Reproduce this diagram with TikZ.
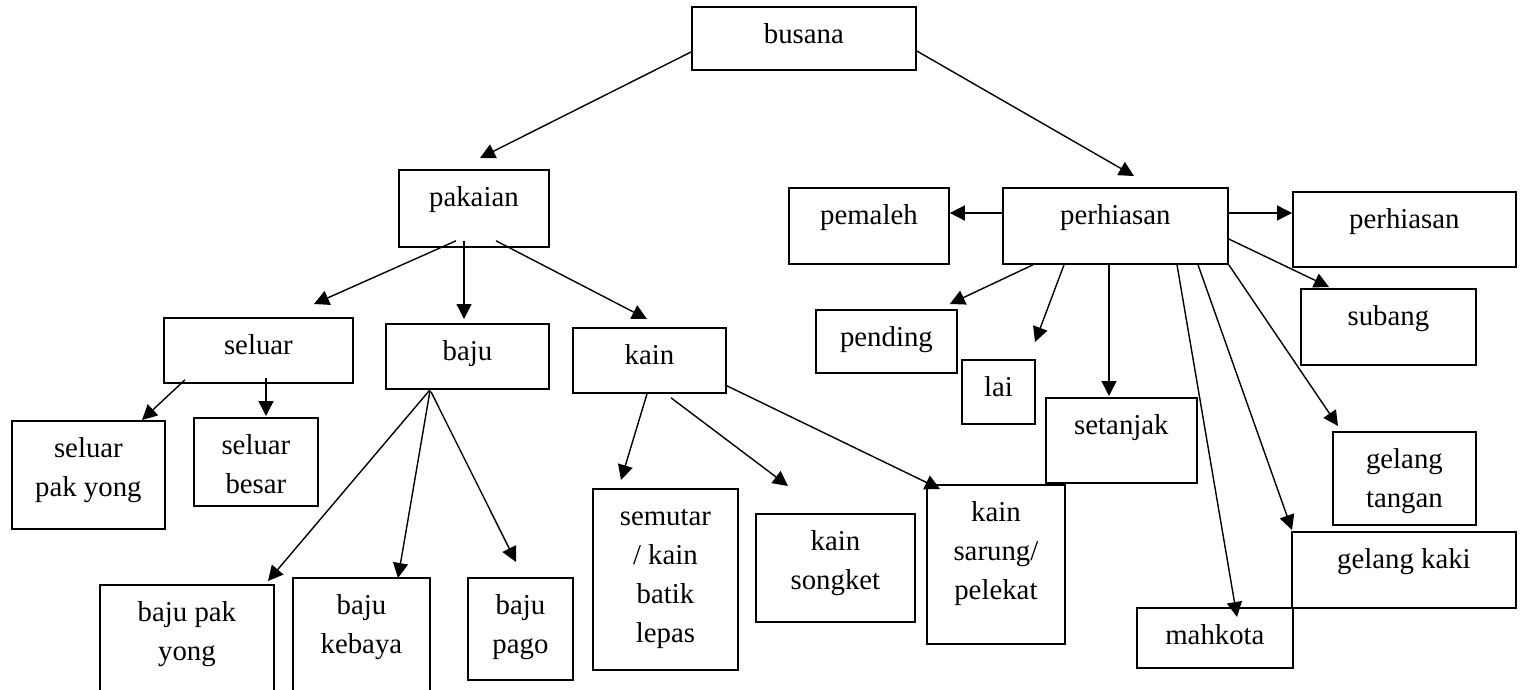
\documentclass[tikz,border=0pt]{standalone}
\usepackage{fontspec}
\setmainfont{Liberation Serif}
\usetikzlibrary{arrows.meta,calc}
\newcommand{\isi}[3]{\parbox[t][#2pt][t]{#1pt}{\centering\rule{0pt}{37pt}#3}}

\begin{document}
\begin{tikzpicture}[x=1pt,y=-1pt,
	kotak/.style={draw,line width=1.8pt,inner sep=0pt,anchor=north west,font=\fontsize{28.8}{39}\selectfont},
	panah/.style={line width=1.4pt,-{Triangle[length=15pt,width=15pt]}}]
	\useasboundingbox (0,0) rectangle (1522,689);
	\clip (0,0) rectangle (1522,689);
	\node[kotak] (busana) at (691,6) {\isi{224}{63}{busana}};
	\node[kotak] (pakaian) at (398,169) {\isi{150}{77}{pakaian}};
	\node[kotak] (seluar) at (163,317) {\isi{189}{65}{seluar}};
	\node[kotak] (baju) at (385,323) {\isi{163}{65}{baju}};
	\node[kotak] (kain) at (572,327) {\isi{153}{65}{kain}};
	\node[kotak] (seluarpakyong) at (11,420) {\isi{153}{108}{seluar\\pak yong}};
	\node[kotak] (seluarbesar) at (193,417) {\isi{124}{88}{seluar\\besar}};
	\node[kotak] (bajupakyong) at (99,584) {\isi{174}{140}{baju pak\\yong}};
	\node[kotak] (bajukebaya) at (292,577) {\isi{137}{140}{baju\\kebaya}};
	\node[kotak] (bajupago) at (467,577) {\isi{105}{102}{baju\\pago}};
	\node[kotak] (semutar) at (592,488) {\isi{145}{181}{semutar\\/ kain\\batik\\lepas}};
	\node[kotak] (kainsongket) at (755,513) {\isi{159}{108}{kain\\songket}};
	\node[kotak] (kainsarung) at (926,484) {\isi{138}{159}{kain\\sarung/\\pelekat}};
	\node[kotak] (perhiasan) at (1002,187) {\isi{225}{76}{perhiasan}};
	\node[kotak] (pemaleh) at (788,187) {\isi{160}{76}{pemaleh}};
	\node[kotak] (perhiasankanan) at (1292,191) {\isi{223}{75}{perhiasan}};
	\node[kotak] (pending) at (815,309) {\isi{141}{63}{pending}};
	\node[kotak] (lai) at (961,359) {\isi{73}{64}{lai}};
	\node[kotak] (setanjak) at (1045,397) {\isi{151}{85}{setanjak}};
	\node[kotak] (subang) at (1300,288) {\isi{175}{76}{subang}};
	\node[kotak] (gelangtangan) at (1332,431) {\isi{143}{93}{gelang\\tangan}};
	\node[kotak] (gelangkaki) at (1291,531) {\isi{224}{76}{gelang kaki}};
	\node[kotak] (mahkota) at (1136,607) {\isi{156}{60}{mahkota}};
	\draw[panah] ($(busana.north west)+(0,46)$) -- ($(pakaian.north west)+(82,-11)$);
	\draw[panah] ($(busana.north east)+(0,45)$) -- ($(perhiasan.north west)+(132,-11)$);
	\draw[panah] ($(pakaian.south west)+(58,-7)$) -- ($(seluar.north west)+(151,-13)$);
	\draw[panah] ($(pakaian.south west)+(66,-7)$) -- ($(baju.north west)+(79,-4)$);
	\draw[panah] ($(pakaian.south west)+(98,-7)$) -- ($(kain.north west)+(75,-8)$);
	\draw[panah] ($(seluar.south west)+(22,-4)$) -- ($(seluarpakyong.north west)+(131,0)$);
	\draw[panah] ($(seluar.south west)+(103,-6)$) -- ($(seluarbesar.north west)+(73,-1)$);
	\draw[panah] ($(baju.south west)+(45,0)$) -- ($(bajupakyong.north west)+(169,-3)$);
	\draw[panah] ($(baju.south west)+(45,1)$) -- ($(bajukebaya.north west)+(106,1)$);
	\draw[panah] ($(baju.south west)+(46,2)$) -- ($(bajupago.north west)+(49,-15)$);
	\draw[panah] ($(kain.south west)+(75,0)$) -- ($(semutar.north west)+(29,-8)$);
	\draw[panah] ($(kain.south west)+(99,4)$) -- ($(kainsongket.north west)+(33,-27)$);
	\draw[panah] ($(kain.south east)+(-2,-9)$) -- ($(kainsarung.north west)+(14,5)$);
	\draw[panah] ($(perhiasan.north west)+(0,26)$) -- ($(pemaleh.north east)+(0,26)$);
	\draw[panah] ($(perhiasan.north east)+(0,26)$) -- ($(perhiasankanan.north west)+(0,22)$);
	\draw[panah] ($(perhiasan.north east)+(0,52)$) -- ($(subang.north west)+(29,-1)$);
	\draw[panah] ($(perhiasan.south west)+(31,0)$) -- ($(pending.north east)+(-8,-5)$);
	\draw[panah] ($(perhiasan.south west)+(62,0)$) -- ($(lai.north west)+(74,-17)$);
	\draw[panah] ($(perhiasan.south west)+(107,0)$) -- ($(setanjak.north west)+(64,-1)$);
	\draw[panah] ($(perhiasan.south west)+(175,0)$) -- ($(mahkota.north west)+(101,10)$);
	\draw[panah] ($(perhiasan.south west)+(196,0)$) -- ($(gelangkaki.north west)+(1,-1)$);
	\draw[panah] (perhiasan.south east) -- ($(gelangtangan.north west)+(6,-5)$);
\end{tikzpicture}
\end{document}
